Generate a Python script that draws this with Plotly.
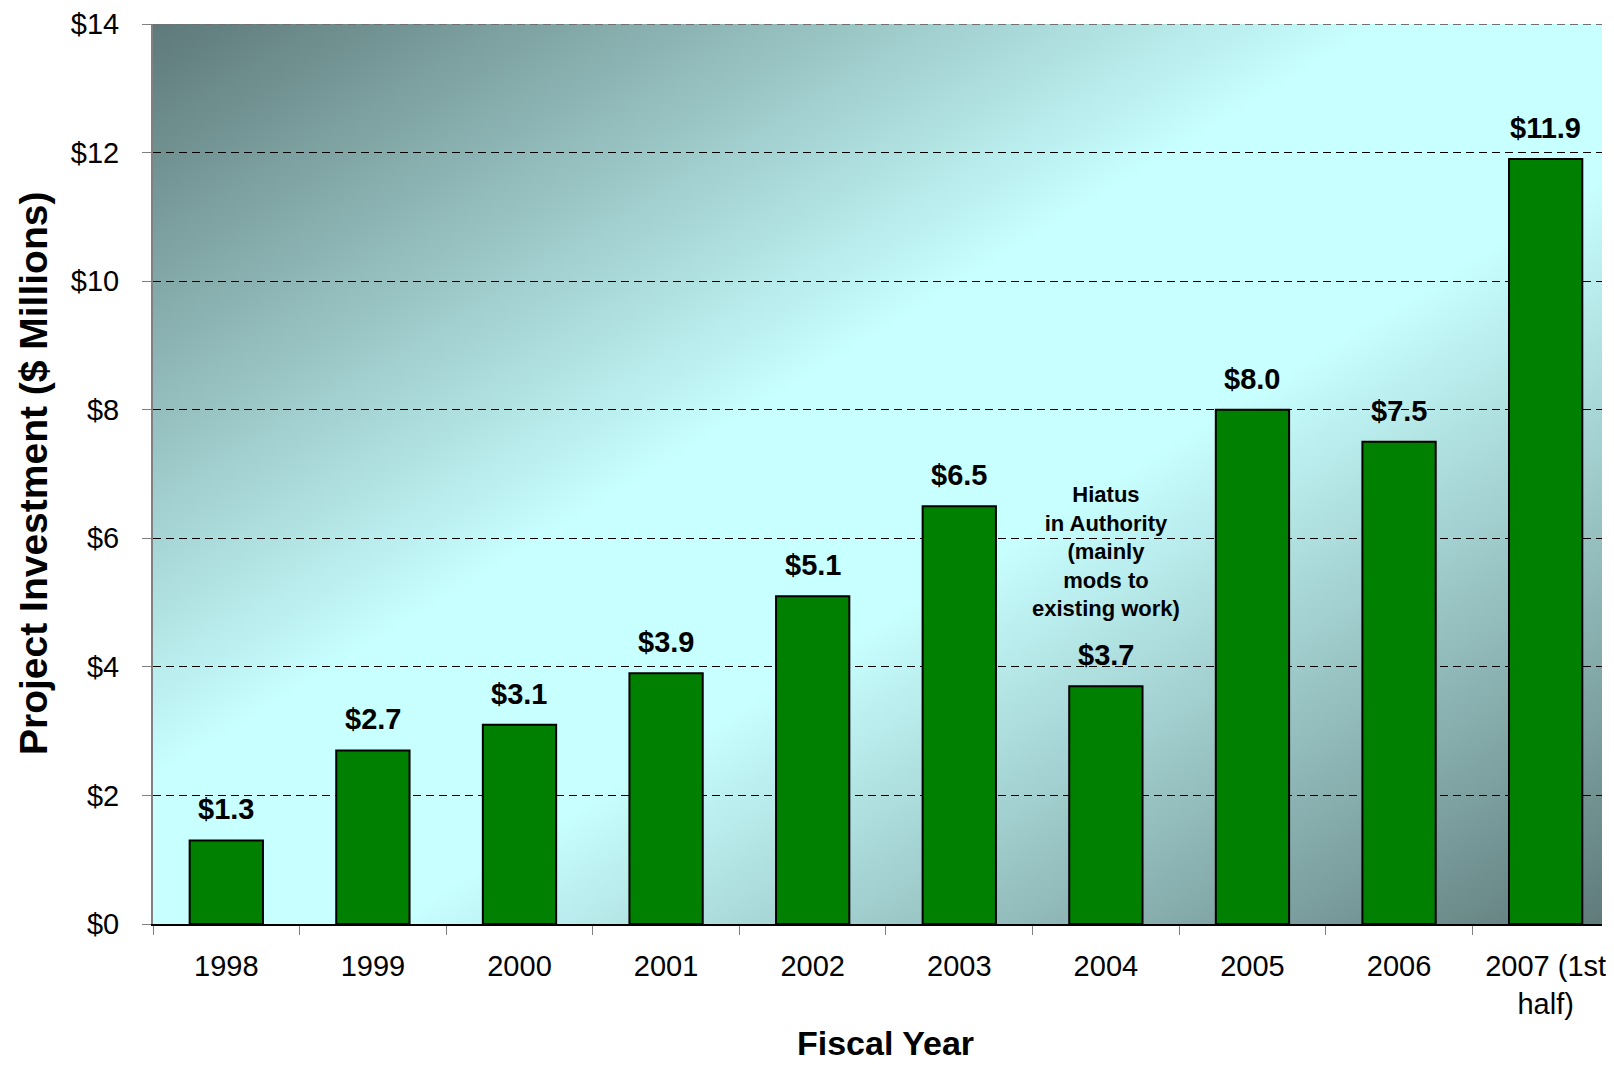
import plotly.graph_objects as go
import urllib.parse

# ---- data ----
years = ["1998", "1999", "2000", "2001", "2002", "2003", "2004", "2005", "2006", "2007 (1st<br>half)"]
investment = [1.3, 2.7, 3.1, 3.9, 5.1, 6.5, 3.7, 8.0, 7.5, 11.9]
value_labels = ["$1.3", "$2.7", "$3.1", "$3.9", "$5.1", "$6.5", "$3.7", "$8.0", "$7.5", "$11.9"]
y_ticks = [0, 2, 4, 6, 8, 10, 12, 14]
y_tick_labels = ["$0", "$2", "$4", "$6", "$8", "$10", "$12", "$14"]
note_text = "Hiatus<br>in Authority<br>(mainly<br>mods to<br>existing work)"
note_year = "2004"
note_y = 5.8

FONT = "Arial, 'Liberation Sans', sans-serif"
# page body has an 8px margin, so the figure is sized/positioned to compensate
W, H = 1598, 1058
ML, MT, MB = 145, 14, 142
CAT_PX = 147.0
plot_w = W - ML
x_max = -0.5 + plot_w / CAT_PX

# gradient background as an SVG image
dark = "rgb(94,121,121)"
cyan = "rgb(200,255,255)"
svg = (
    "<svg xmlns='http://www.w3.org/2000/svg' width='100' height='100' viewBox='0 0 100 100' preserveAspectRatio='none'>"
    "<defs><linearGradient id='g' x1='0' y1='0' x2='1' y2='1'>"
    f"<stop offset='0' stop-color='{dark}'/>"
    f"<stop offset='0.42' stop-color='{cyan}'/>"
    f"<stop offset='0.58' stop-color='{cyan}'/>"
    f"<stop offset='1' stop-color='{dark}'/>"
    "</linearGradient></defs>"
    "<rect x='0' y='0' width='100' height='100' fill='url(#g)'/></svg>"
)
svg_uri = "data:image/svg+xml;charset=utf-8," + urllib.parse.quote(svg)

fig = go.Figure()
fig.add_trace(go.Bar(
    x=years,
    y=investment,
    width=0.5,
    marker=dict(color="#008000", line=dict(color="black", width=2)),
    hoverinfo="skip",
))

annotations = []
for i, (v, lab) in enumerate(zip(investment, value_labels)):
    annotations.append(dict(
        x=i, y=v, xref="x", yref="y", text=f"<b>{lab}</b>", showarrow=False,
        yanchor="middle", yshift=31, font=dict(family=FONT, size=29, color="black"),
    ))
annotations.append(dict(
    x=years.index(note_year), y=note_y, xref="x", yref="y", text=f"<b>{note_text}</b>",
    showarrow=False, yanchor="middle", xanchor="center",
    font=dict(family=FONT, size=22, color="black"),
))
annotations.append(dict(
    x=0, y=0.5, xref="paper", yref="paper", xanchor="center", yanchor="middle", xshift=-120,
    text="<b>Project Investment ($ Millions)</b>", textangle=-90, showarrow=False,
    font=dict(family=FONT, size=39, color="black"),
))
annotations.append(dict(
    x=(10 * CAT_PX / 2) / plot_w, y=0, xref="paper", yref="paper", xanchor="center", yanchor="middle",
    yshift=-119, text="<b>Fiscal Year</b>", showarrow=False,
    font=dict(family=FONT, size=34, color="black"),
))

fig.update_layout(
    width=W, height=H,
    margin=dict(l=ML, r=0, t=MT, b=MB, pad=0),
    paper_bgcolor="white",
    plot_bgcolor="white",
    showlegend=False,
    annotations=annotations,
    images=[dict(
        source=svg_uri, xref="x", yref="y", x=-0.5, y=y_ticks[-1],
        sizex=len(years), sizey=y_ticks[-1], sizing="stretch",
        xanchor="left", yanchor="top", layer="below",
    )],
    shapes=[dict(
        type="line", xref="paper", yref="y", x0=0, x1=1, y0=y_ticks[-1], y1=y_ticks[-1],
        line=dict(color="#707070", width=2, dash="8px,5px"),
    )],
)

fig.update_xaxes(
    type="category",
    range=[-0.5, x_max],
    tickson="boundaries",
    ticks="outside", ticklen=9, tickwidth=1, tickcolor="#808080",
    showline=True, linecolor="black", linewidth=2,
    showgrid=False, zeroline=False,
    tickfont=dict(family=FONT, size=29, color="black"),
    ticklabelstandoff=15,
    ticklabeloverflow="allow",
)
fig.update_yaxes(
    range=[0, y_ticks[-1]],
    tickmode="array", tickvals=y_ticks, ticktext=y_tick_labels,
    ticks="outside", ticklen=9, tickwidth=1, tickcolor="#808080",
    showline=True, linecolor="#808080", linewidth=2,
    showgrid=True, gridcolor="black", gridwidth=1, griddash="8px,5px",
    zeroline=False,
    tickfont=dict(family=FONT, size=29, color="black"),
    ticklabelstandoff=17,
    ticklabeloverflow="allow",
)

fig.write_html("out.html")
